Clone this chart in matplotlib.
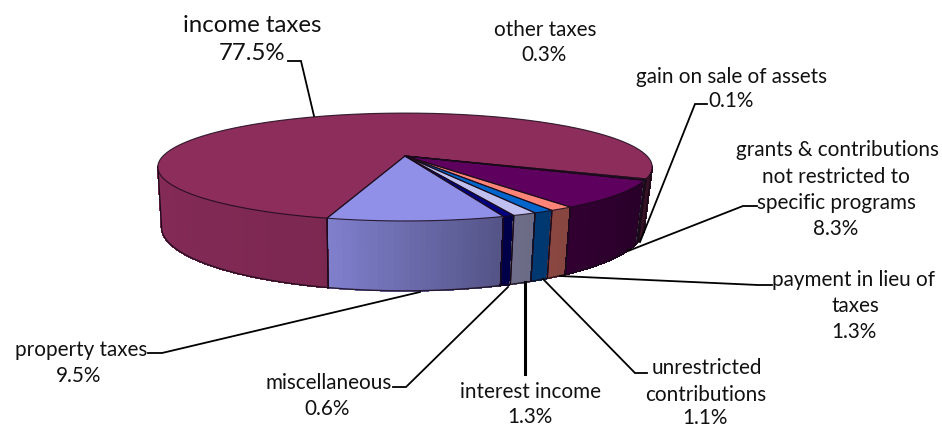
import numpy as np
import matplotlib
matplotlib.use("Agg")
import matplotlib.pyplot as plt
from matplotlib.colors import to_rgb

plt.rcParams['font.family'] = ['Lato', 'DejaVu Sans']

# ---- data (counter-clockwise from the front of the pie, seen from above)
categories = ["property taxes", "miscellaneous", "interest income",
              "unrestricted contributions", "payment in lieu of taxes",
              "grants & contributions not restricted to specific programs",
              "gain on sale of assets", "other taxes", "income taxes"]
values = [9.5, 0.6, 1.3, 1.1, 1.3, 8.3, 0.1, 0.3, 77.5]
colors = ["#9090E8", "#000080", "#C0C0F0", "#0066CC", "#FF8478",
          "#5E005E", "#A0E0E0", "#CCCCFF", "#8C2D5C"]

# label lines: text, centre x, centre y, size
BIG, STD = 17.3, 14.9
label_lines = [
    ("income taxes", 252, 25, BIG), ("77.5%", 252, 53, BIG),
    ("other taxes", 545, 30, STD), ("0.3%", 544, 55, STD),
    ("gain on sale of assets", 731, 77, STD), ("0.1%", 731, 101, STD),
    ("grants & contributions", 837, 150, STD), ("not restricted to", 836, 177, STD),
    ("specific programs", 836, 203, STD), ("8.3%", 836, 229, STD),
    ("payment in lieu of", 854, 280, STD), ("taxes", 855, 306, STD), ("1.3%", 854, 332, STD),
    ("unrestricted", 707, 368, STD), ("contributions", 706, 395, STD), ("1.1%", 705, 418, STD),
    ("interest income", 530, 392, STD), ("1.3%", 530, 417, STD),
    ("miscellaneous", 329, 383, STD), ("0.6%", 327, 409, STD),
    ("property taxes", 81, 350, STD), ("9.5%", 79, 376, STD),
]
leaders = [
    ([288, 301, 314], [62, 62, 117], 1.3),
    ([707, 695, 640], [105, 105, 243], 1.3),
    ([757, 743, 628], [207, 207, 252], 1.3),
    ([772, 758, 560], [286, 286, 277], 1.3),
    ([647, 635, 543], [374, 374, 280], 1.3),
    ([525, 525], [375, 283], 2.2),
    ([393, 406, 508], [388, 388, 288], 1.3),
    ([148, 162, 420], [354, 354, 293], 1.3),
]

# ---- pie geometry
CX, CY = 405.0, 157.0
A, B, K = 242.0, 51.7, 0.204
D0, KD = 58.0, 0.17
FX_LEFT, FX_RIGHT = 0.985, 0.968
START = 19.2 - 34.2      # degrees from the front direction
VISIBLE = 79.0           # side wall is seen up to this angle from the front
EDGE = "#1a0a1a"


def top(theta):
    u, v = np.sin(np.radians(theta)), -np.cos(np.radians(theta))
    p = 1 + K * v
    return CX + A * u / p, CY - B * v / p


def bottom(theta):
    x, y = top(theta)
    v = -np.cos(np.radians(theta))
    dx = x - CX
    return CX + dx * np.where(dx < 0, FX_LEFT, FX_RIGHT), y + D0 / (1 + KD * v)


def shade(theta):
    return np.interp(theta, [-180, -90, -14, 19, 65, 90, 180],
                     [1.0, 0.97, 0.88, 0.58, 0.42, 0.30, 0.30])


fig = plt.figure(figsize=(9.42, 4.27), dpi=100)
ax = fig.add_axes([0, 0, 1, 1])
ax.set_xlim(0, 942)
ax.set_ylim(427, 0)
ax.axis('off')

edges = START + np.concatenate([[0], np.cumsum(values)]) * 3.6


def wrap(t):
    return (t + 180) % 360 - 180


# side walls: each wedge clipped to the range that faces the viewer
for i in range(len(values)):
    e0, e1 = edges[i], edges[i + 1]
    ranges = []
    if e1 - e0 > 180:   # the large wedge wraps round the back
        ranges = [(e0, VISIBLE), (360 - VISIBLE, e1)]
    elif e0 < VISIBLE:
        ranges = [(e0, min(e1, VISIBLE))]
    base = np.array(to_rgb(colors[i]))
    for r0, r1 in ranges:
        n = max(2, int((r1 - r0) / 1.0))
        th = np.linspace(r0, r1, n + 1)
        for a, b in zip(th[:-1], th[1:]):
            tt = np.array([a, b])
            xt, yt = top(tt)
            xb, yb = bottom(tt)
            c = base * float(shade(wrap((a + b) / 2)))
            ax.fill(np.r_[xt, xb[::-1]], np.r_[yt, yb[::-1]], facecolor=c,
                    edgecolor=c, lw=0.7, antialiased=False, zorder=2)
        xt, yt = top(th)
        xb, yb = bottom(th)
        ax.plot(xb, yb, color=EDGE, lw=1.0, zorder=3, alpha=0.85)
        ax.plot([xt[0], xb[0]], [yt[0], yb[0]], color=EDGE, lw=0.9, zorder=3)
        ax.plot([xt[-1], xb[-1]], [yt[-1], yb[-1]], color=EDGE, lw=0.9, zorder=3)

# top faces
for i in np.argsort(values)[::-1]:
    e0, e1 = edges[i], edges[i + 1]
    th = np.linspace(e0, e1, max(3, int((e1 - e0) / 1.5)))
    xt, yt = top(th)
    ax.fill(np.r_[CX, xt], np.r_[CY, yt], color=colors[i], lw=0, zorder=4)
    ax.plot(np.r_[CX, xt, CX], np.r_[CY, yt, CY], color=EDGE, lw=0.8, zorder=5, alpha=0.85)

for xs, ys, lw in leaders:
    ax.plot(xs, ys, color='black', lw=lw, zorder=6, solid_joinstyle='miter')

for s, x, y, size in label_lines:
    ax.text(x, y, s, ha='center', va='center', fontsize=size, color='#111111', zorder=7)

fig.savefig("out.png", dpi=100)
